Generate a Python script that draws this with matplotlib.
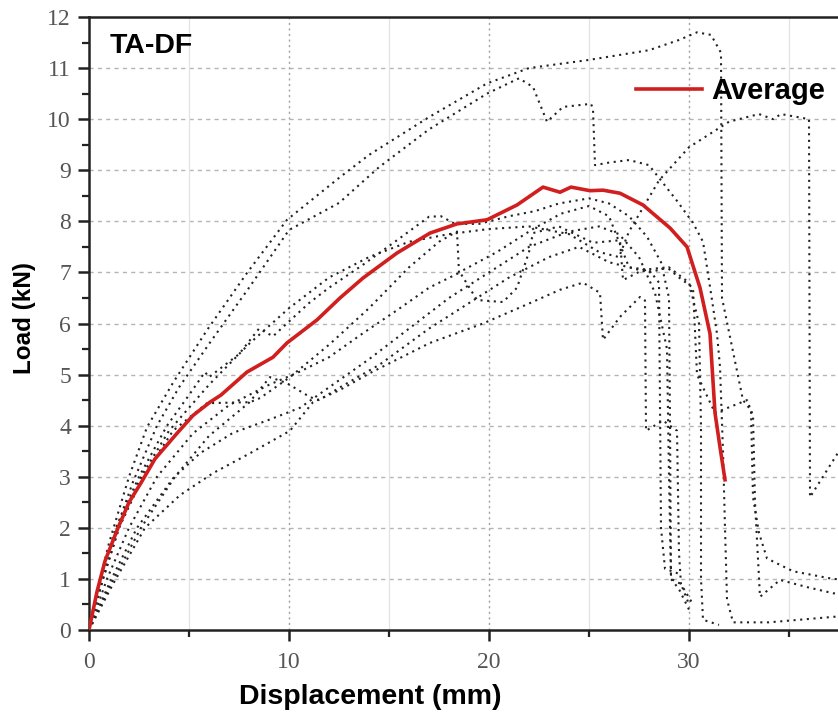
import numpy as np
import matplotlib.pyplot as plt

# ── data (displacement mm, load kN) ──
avg_x = [0, 0.4, 0.8, 1.45, 2.0, 2.6, 3.3, 4.4, 5.2, 6.05, 6.6, 7.9, 9.2, 9.9, 11.4, 12.55,
         13.7, 15.4, 17.05, 18.4, 19.9, 21.4, 22.7, 23.55, 24.1, 25.05, 25.7, 26.55, 27.7,
         29.05, 29.9, 30.55, 31.05, 31.3, 31.55, 31.8]
avg_y = [0, 0.75, 1.35, 2.0, 2.5, 2.88, 3.35, 3.85, 4.2, 4.46, 4.6, 5.05, 5.34, 5.62, 6.07, 6.5,
         6.89, 7.38, 7.77, 7.95, 8.03, 8.32, 8.67, 8.57, 8.67, 8.6, 8.61, 8.55, 8.32,
         7.87, 7.5, 6.7, 5.8, 4.25, 3.58, 2.94]

s1_x = [0, 0.5, 1, 2, 2.9, 4.2, 5.9, 7.9, 9.9, 12.5, 14, 17, 19.9, 22, 25, 28, 29.5, 30.4, 31.1,
        31.6, 31.65, 32.7, 33.1, 33.2, 33.5, 33.9, 35.2, 37.2, 40]
s1_y = [0, 0.9, 1.7, 3.0, 3.97, 4.84, 5.87, 6.99, 8.03, 8.85, 9.3, 10.04, 10.7, 11.0, 11.16, 11.35,
        11.55, 11.7, 11.65, 11.3, 6.5, 4.5, 4.3, 2.6, 1.9, 1.4, 1.15, 1.0, 0.95]

s2_x = [0, 0.5, 1.2, 2.2, 3.4, 4.5, 6, 8, 10, 12.5, 14.5, 17, 19.9, 21.5, 22.2, 22.9, 23.7, 25.1,
        25.2, 25.3, 26, 27, 28, 28.6, 29.4, 30.2, 30.7, 30.9, 31.15, 31.4, 31.55, 31.7, 31.8, 31.9,
        32.2, 34, 37, 40]
s2_y = [0, 0.85, 1.8, 2.9, 4.0, 4.75, 5.6, 6.7, 7.83, 8.36, 9.06, 9.8, 10.5, 10.8, 10.63, 9.95, 10.24,
        10.3, 10.2, 9.1, 9.15, 9.2, 9.1, 8.8, 8.4, 7.97, 7.6, 7.1, 6.46, 5.8, 5.15, 3.5, 2.0, 0.6,
        0.15, 0.15, 0.25, 0.35]

s3_x = [0, 0.6, 1.35, 2.5, 3.9, 5.0, 5.8, 6.0, 7.5, 8.5, 9.2, 11.0, 12.0, 13.7, 15.4, 17.0, 17.6,
        18.3, 19.5, 21, 22.3, 23.5, 25, 26, 27, 27.9, 28.6, 29.0, 29.05, 29.1, 29.6, 30.0]
s3_y = [0, 1.0, 2.0, 3.0, 4.0, 4.6, 5.05, 4.95, 5.4, 5.9, 5.75, 6.4, 6.7, 7.15, 7.63, 8.09, 8.1,
        7.95, 7.95, 8.1, 8.2, 8.35, 8.45, 8.35, 8.1, 7.7, 7.2, 6.5, 4.0, 1.0, 0.9, 0.5]

s4_x = [0, 0.7, 1.5, 2.6, 4.0, 6, 8, 10, 12, 14, 16, 18, 20, 22, 24, 25.5, 26.5, 27, 28.5, 30,
        32, 33.5, 34.2, 34.6, 36, 36.05, 37.5, 40]
s4_y = [0, 1.0, 2.0, 3.0, 3.9, 4.8, 5.6, 6.3, 6.9, 7.3, 7.6, 7.75, 7.85, 7.9, 7.75, 7.4, 7.3, 7.8,
        8.8, 9.45, 9.95, 10.1, 10.0, 10.1, 10.0, 2.6, 3.5, 4.0]

s5_x = [0, 0.7, 1.5, 2.7, 4.2, 5.9, 8.05, 8.55, 10.05, 12.05, 14, 16, 17.5, 18.4, 18.5, 20.4,
        22.2, 23.6, 25, 26, 26.5, 27, 28, 29, 30, 30.5, 30.6, 30.6, 30.7, 31.5]
s5_y = [0, 1.0, 2.0, 3.0, 3.9, 4.44, 4.46, 4.54, 4.95, 5.6, 6.3, 7.1, 7.6, 7.8, 7.0, 7.4,
        7.85, 8.15, 8.3, 8.1, 7.6, 7.1, 7.0, 7.1, 6.8, 6.0, 4.0, 1.0, 0.2, 0.1]

s6_x = [0, 0.9, 2.0, 3.4, 5.2, 7, 9, 10.5, 12, 13.7, 15.4, 17, 18.55, 19.4, 20.7, 21.4, 22,
        22.2, 23.5, 25.2, 26.55, 26.7, 27.7, 28.9, 29.5, 30.2, 30.4, 31.3, 32.9, 33.2, 33.3,
        33.55, 34.55, 35.9, 37.2, 40]
s6_y = [0, 1.0, 2.0, 3.0, 3.85, 4.4, 4.8, 5.05, 5.34, 5.81, 6.26, 6.7, 7.0, 6.46, 6.42, 6.7, 7.4,
        7.77, 7.9, 7.58, 7.63, 6.85, 7.05, 7.1, 6.9, 6.7, 5.0, 4.25, 4.5, 4.2, 2.5,
        0.65, 0.98, 0.84, 0.72, 0.6]

s7_x = [0, 1.0, 2.4, 4.2, 5.55, 7.2, 8.9, 10.55, 12, 14, 16, 18, 20, 22, 24, 25.5, 26.5, 27.5,
        28.3, 28.9, 29.0, 29.1, 29.5, 30.0]
s7_y = [0, 0.9, 2.0, 2.97, 3.46, 3.86, 4.1, 4.35, 4.75, 5.3, 5.9, 6.5, 7.0, 7.5, 7.8, 7.9, 7.75,
        7.3, 6.6, 5.5, 3.0, 1.0, 0.8, 0.4]

s8_x = [0, 1.2, 2.8, 4.55, 6.2, 8.05, 10.05, 11.2, 12.55, 14.05, 17.05, 19.7, 22.05, 23.55, 24.7,
        25.55, 25.7, 26.55, 27.55, 27.8, 27.85, 28.7, 29.4, 29.5, 29.6, 30.2]
s8_y = [0, 0.9, 2.0, 2.64, 3.07, 3.46, 3.9, 4.46, 4.7, 5.03, 5.62, 6.0, 6.4, 6.66, 6.8,
        6.6, 5.68, 6.13, 6.52, 6.45, 3.9, 4.1, 3.9, 1.5, 0.9, 0.5]

s9_x = [0, 1.1, 2.6, 4.3, 6, 8, 9.05, 9.9, 11.05, 11.5, 12.55, 14.55, 17, 19, 21, 23, 24.5,
        26, 27, 28, 28.5, 28.6, 28.8, 29.5]
s9_y = [0, 0.9, 2.0, 3.0, 3.8, 4.45, 4.95, 4.83, 4.56, 4.5, 4.75, 5.2, 5.9, 6.4, 6.9, 7.3, 7.5,
        7.2, 7.1, 7.05, 6.8, 2.0, 1.2, 1.1]

specimens = [(s1_x, s1_y), (s2_x, s2_y), (s3_x, s3_y), (s4_x, s4_y), (s5_x, s5_y),
             (s6_x, s6_y), (s7_x, s7_y), (s8_x, s8_y), (s9_x, s9_y)]

x_ticks = [0, 10, 20, 30]
x_minor = [5, 15, 25, 35]
y_ticks = list(range(0, 13))

# ── figure ──
W, H = 838, 719
fig = plt.figure(figsize=(W / 100, H / 100), dpi=100)
# axes runs past the right edge: the picture is cropped at ~37.5 mm
ax = fig.add_axes([89 / W, (H - 630) / H, 800 / W, 613 / H])

ax.set_xlim(0, 40)
ax.set_ylim(0, 12)

# grid
for yv in y_ticks[1:-1]:
    ax.axhline(yv, color="#b5b5b5", lw=1.0, ls=(0, (3, 3)), zorder=0)
for xv in x_minor:
    ax.axvline(xv, color="#e3e3e3", lw=0.9, zorder=0)
for xv in x_ticks[1:]:
    ax.axvline(xv, color="#a0a0a0", lw=1.0, ls=(0, (1.5, 2.5)), zorder=0)

for sx, sy in specimens:
    ax.plot(sx, sy, color="#222222", lw=1.5, ls=(0, (1, 2.2)), zorder=2)

ax.plot(avg_x, avg_y, color="#d11f1f", lw=2.6, zorder=3, label="Average",
        solid_joinstyle="round")

# axes styling
for side in ("left", "bottom", "top", "right"):
    ax.spines[side].set_linewidth(1.8)
    ax.spines[side].set_color("#222222")

ax.set_xticks(x_ticks)
ax.set_xticks(x_minor, minor=True)
ax.set_yticks(y_ticks)
ax.set_yticks(np.arange(0.5, 12, 1.0), minor=True)
ax.tick_params(which="major", direction="out", length=8, width=1.8, color="#222222",
               labelsize=17, labelcolor="#555555", top=False, right=False)
ax.tick_params(which="minor", direction="out", length=5, width=1.6, color="#222222",
               top=False, right=False)
ax.tick_params(axis="x", which="major", pad=8)
ax.tick_params(axis="y", which="major", pad=5)
for lab in ax.get_xticklabels() + ax.get_yticklabels():
    lab.set_family("Liberation Serif")

ax.set_xlabel("Displacement (mm)", fontsize=20.5, fontweight="bold", family="Liberation Sans")
ax.xaxis.set_label_coords((370 - 89) / 800, (630 - 697) / 613)
ax.xaxis.label.set_va("center")
ax.set_ylabel("Load (kN)", fontsize=17.5, fontweight="bold", family="Liberation Sans")
ax.yaxis.set_label_coords((24 - 89) / 800, (630 - 318) / 613)
ax.yaxis.label.set_va("center")

ax.text((110 - 89) / 800, (630 - 46) / 613, "TA-DF", transform=ax.transAxes,
        fontsize=20.5, fontweight="bold", family="Liberation Sans", ha="left", va="center")

leg = ax.legend(loc="center left", bbox_to_anchor=((636 - 89) / 800, (630 - 91) / 613),
                frameon=False, borderpad=0, borderaxespad=0, handlelength=2.25,
                handletextpad=0.34, prop={"family": "Liberation Sans", "weight": "bold", "size": 21})

fig.savefig("out.png", dpi=100)
